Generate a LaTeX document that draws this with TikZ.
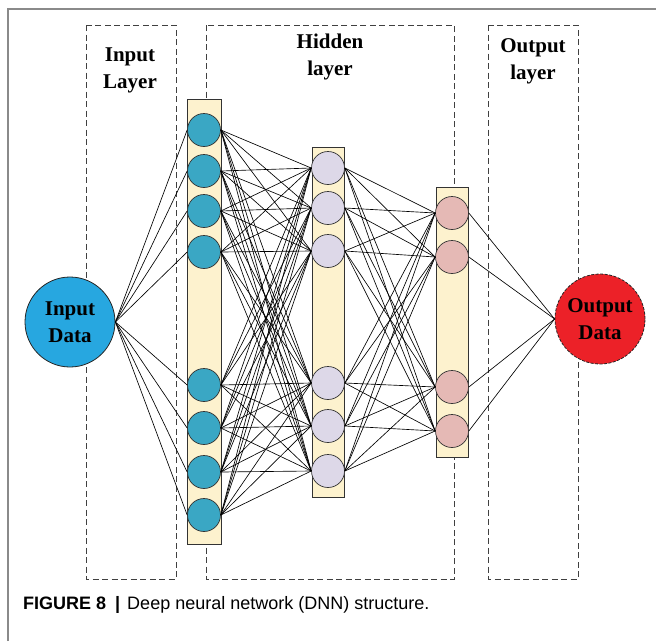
\documentclass[tikz,border=0pt]{standalone}
\usepackage{fontspec}
\setmainfont{Liberation Serif}
\newfontfamily\capfont{Liberation Sans}
\begin{document}
\begin{tikzpicture}[x=1pt,y=-1pt,
  regionbox/.style={draw=black!75, dash pattern=on 6pt off 3.5pt, line width=1pt},
  layerbar/.style={draw=black!80, fill=barfill, line width=0.8pt},
  unit/.style={circle, draw=black!80, line width=0.7pt, minimum size=33pt, inner sep=0pt},
  inunit/.style={unit, fill=inblue},
  hidunit/.style={unit, fill=hidlav},
  outunit/.style={unit, fill=outpink},
  bigunit/.style={circle, draw=black!85, line width=0.8pt, minimum size=90pt, inner sep=0pt,
    align=center, font=\fontsize{21}{27}\selectfont\bfseries},
  title/.style={align=center, font=\fontsize{21}{27}\selectfont\bfseries},
  link/.style={draw=black, line width=0.65pt}
]
\definecolor{barfill}{HTML}{FDF2CE}
\definecolor{inblue}{HTML}{3AA7C4}
\definecolor{datablue}{HTML}{27A7E0}
\definecolor{hidlav}{HTML}{DDD8E8}
\definecolor{outpink}{HTML}{E5B9B5}
\definecolor{datared}{HTML}{EC2128}
\definecolor{framegray}{HTML}{8A8A8A}

\useasboundingbox (0,0) rectangle (656,641);

% figure frame (left and top edges)
\draw[framegray, line width=1.2pt] (8,641) -- (8,9) -- (656,9);

% dashed regions
\draw[regionbox] (86,25) rectangle (176,579);
\draw[regionbox] (206,25) rectangle (454,579);
\draw[regionbox] (488,25) rectangle (578,579);

\node[title] (tin) at (130,70) {Input\\Layer};
\node[title] (thid) at (330,57) {Hidden\\layer};
\node[title] (tout) at (533,61) {Output\\layer};

% layer bars
\draw[layerbar] (187,99) rectangle (221,544);
\draw[layerbar] (312,147) rectangle (344,497);
\draw[layerbar] (436,187) rectangle (468,457);

% units
\node[bigunit, fill=datablue] (in) at (70,322) {Input\\Data};
\node[bigunit, fill=datared, dash pattern=on 3pt off 1.5pt] (out) at (600,319) {Output\\Data};

\foreach \k/\y in {1/130,2/171,3/211,4/252,5/385,6/428,7/472,8/515}
  \node[inunit] (i\k) at (204,\y) {};
\foreach \k/\y in {1/168,2/208,3/251,4/383,5/426,6/471}
  \node[hidunit] (h\k) at (328,\y) {};
\foreach \k/\y in {1/213,2/257,3/387,4/431}
  \node[outunit] (o\k) at (452,\y) {};

% connections
\foreach \a in {1,...,8}
  \draw[link] (in.east) -- (i\a.west);
\foreach \a in {1,...,8}
  \foreach \b in {1,...,6}
    \draw[link] (i\a.east) -- (h\b.west);
\foreach \a in {1,...,6}
  \foreach \b in {1,...,4}
    \draw[link] (h\a.east) -- (o\b.west);
\foreach \a in {1,...,4}
  \draw[link] (o\a.east) -- (out.west);

% caption
\node[anchor=base west, inner sep=0pt, font=\capfont\fontsize{18}{20}\selectfont] (cap) at (23,609)
  {\textbf{FIGURE 8}\hspace{9pt}\textbf{|}\hspace{7pt}Deep neural network (DNN) structure.};
\end{tikzpicture}
\end{document}
